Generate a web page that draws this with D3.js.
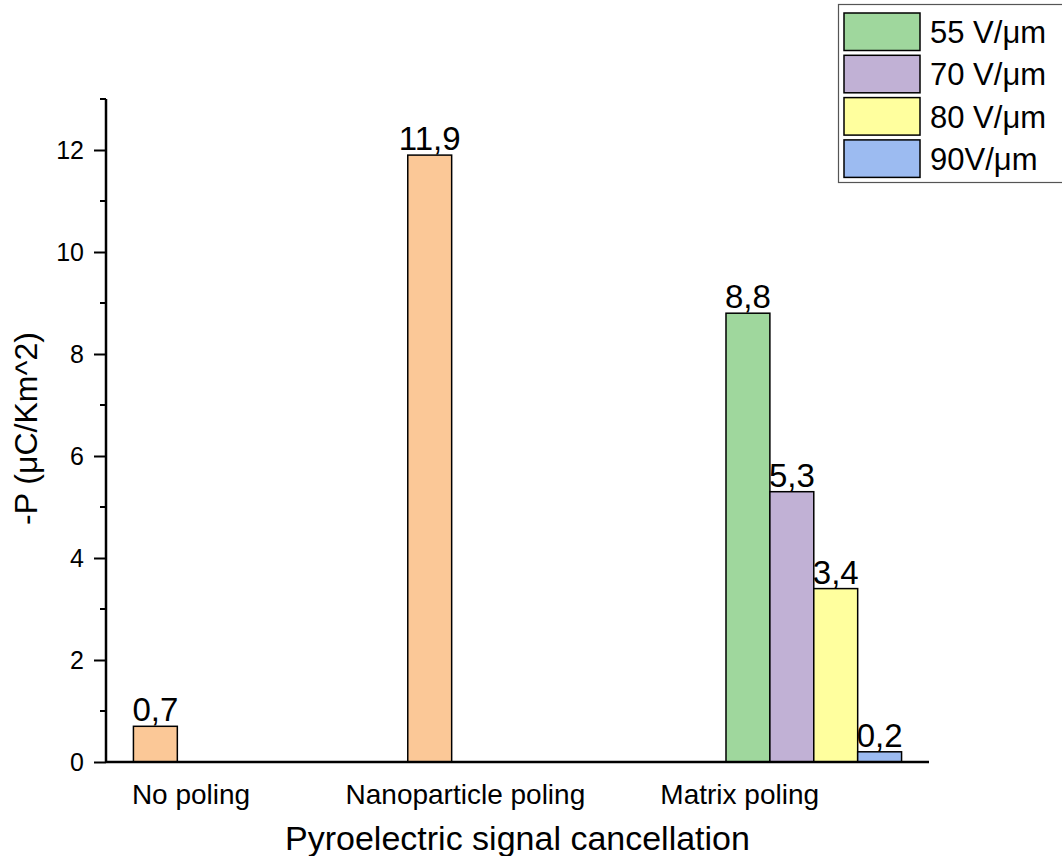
<!DOCTYPE html>
<html>
<head>
<meta charset="utf-8">
<script src="https://cdn.jsdelivr.net/npm/d3@7"></script>
<style>
  html, body { margin: 0; padding: 0; background: #fff; }
  svg { display: block; font-family: Arial, "Liberation Sans", Helvetica, sans-serif; }
</style>
</head>
<body>
<svg id="chart" width="1062" height="856"></svg>
<script>
// Categories on the x axis
const categories = ["No poling", "Nanoparticle poling", "Matrix poling"];

// Series (one bar slot each inside a category group)
const seriesNames = ["Reference", "55 V/μm", "70 V/μm", "80 V/μm", "90V/μm"];
const seriesColors = ["#FBC897", "#9FD79D", "#C1B1D5", "#FFFF9E", "#9CBBF1"];
const legendSeries = ["55 V/μm", "70 V/μm", "80 V/μm", "90V/μm"];

// -P values (μC/Km^2) per series, one entry per category (null = no bar)
const referenceValues = [0.7, 11.9, null];
const v55Values = [null, null, 8.8];
const v70Values = [null, null, 5.3];
const v80Values = [null, null, 3.4];
const v90Values = [null, null, 0.2];

// Axis ticks
const yMajorTicks = [0, 2, 4, 6, 8, 10, 12];
const yMinorTicks = [1, 3, 5, 7, 9, 11, 13];

const yTitle = "-P (μC/Km^2)";
const xTitle = "Pyroelectric signal cancellation";

const seriesValues = [referenceValues, v55Values, v70Values, v80Values, v90Values];

const svg = d3.select("#chart");
const plot = { left: 106, right: 929, top: 99, bottom: 762 };

// x: categories sit at 1, 2, 3 on a linear axis running 0.5 .. 3.5
const x = d3.scaleLinear().domain([0.5, 3.5]).range([plot.left, plot.right]);
// slots inside a group, in x-axis units around the category position
const slot = d3.scaleBand().domain(seriesNames).range([-0.4, 0.4]);
const y = d3.scaleLinear().domain([0, 13]).range([plot.bottom, plot.top]);

const fmt = v => d3.format(".1f")(v).replace(".", ",");

// bars
const bars = [];
seriesNames.forEach((s, si) => {
  seriesValues[si].forEach((v, ci) => {
    if (v != null) bars.push({ series: s, si, pos: ci + 1, value: v });
  });
});

const barG = svg.append("g");
barG.selectAll("rect").data(bars).join("rect")
  .attr("x", d => x(d.pos + slot(d.series)))
  .attr("y", d => y(d.value))
  .attr("width", x(slot.bandwidth()) - x(0))
  .attr("height", d => y(0) - y(d.value))
  .attr("fill", d => seriesColors[d.si])
  .attr("stroke", "#000")
  .attr("stroke-width", 1.5);

// value labels
barG.selectAll("text").data(bars).join("text")
  .attr("x", d => x(d.pos + slot(d.series) + slot.bandwidth() / 2))
  .attr("y", d => y(d.value) - 5)
  .attr("text-anchor", "middle")
  .attr("font-size", 33)
  .attr("fill", "#000")
  .text(d => fmt(d.value));

// y axis
const yAxis = svg.append("g").attr("transform", `translate(${plot.left},0)`);
yAxis.call(d3.axisLeft(y).tickValues(yMajorTicks).tickSize(12).tickPadding(10).tickFormat(d3.format("d")))
  .call(g => g.select(".domain").remove());
yAxis.selectAll(".tick line").attr("stroke", "#000").attr("stroke-width", 2);
yAxis.selectAll(".tick text").attr("font-size", 25).attr("fill", "#000")
  .attr("font-family", "Arial, 'Liberation Sans', sans-serif");
yAxis.append("g").selectAll("line").data(yMinorTicks).join("line")
  .attr("x1", -6).attr("x2", 0)
  .attr("y1", d => y(d)).attr("y2", d => y(d))
  .attr("stroke", "#000").attr("stroke-width", 2);
yAxis.append("line")
  .attr("x1", 0).attr("x2", 0)
  .attr("y1", y(13)).attr("y2", y(0) + 1)
  .attr("stroke", "#000").attr("stroke-width", 2.5);

// x axis line
svg.append("line")
  .attr("x1", plot.left).attr("x2", plot.right)
  .attr("y1", y(0)).attr("y2", y(0))
  .attr("stroke", "#000").attr("stroke-width", 2.5);

// category labels
svg.append("g").selectAll("text").data(categories).join("text")
  .attr("x", (d, i) => x(i + 1 - 0.19))
  .attr("y", plot.bottom + 42)
  .attr("text-anchor", "middle")
  .attr("font-size", 28)
  .attr("fill", "#000")
  .text(d => d);

// axis titles
svg.append("text")
  .attr("x", (plot.left + plot.right) / 2)
  .attr("y", 850)
  .attr("text-anchor", "middle")
  .attr("font-size", 34)
  .attr("fill", "#000")
  .text(xTitle);

svg.append("text")
  .attr("transform", `translate(37,${(plot.top + plot.bottom) / 2 - 2}) rotate(-90)`)
  .attr("text-anchor", "middle")
  .attr("font-size", 32)
  .attr("fill", "#000")
  .text(yTitle);

// legend
const legend = svg.append("g").attr("transform", "translate(838,4)");
legend.append("rect")
  .attr("x", 0.5).attr("y", 0.5)
  .attr("width", 240).attr("height", 178)
  .attr("fill", "#fff").attr("stroke", "#555").attr("stroke-width", 1.2);
const rows = legend.selectAll("g.row").data(legendSeries).join("g")
  .attr("class", "row")
  .attr("transform", (d, i) => `translate(6,${9 + i * 42.3})`);
rows.append("rect")
  .attr("width", 76).attr("height", 37.5)
  .attr("fill", d => seriesColors[seriesNames.indexOf(d)])
  .attr("stroke", "#000").attr("stroke-width", 1.5);
rows.append("text")
  .attr("x", 86).attr("y", 30)
  .attr("font-size", 31)
  .attr("fill", "#000")
  .text(d => d);
</script>
</body>
</html>
